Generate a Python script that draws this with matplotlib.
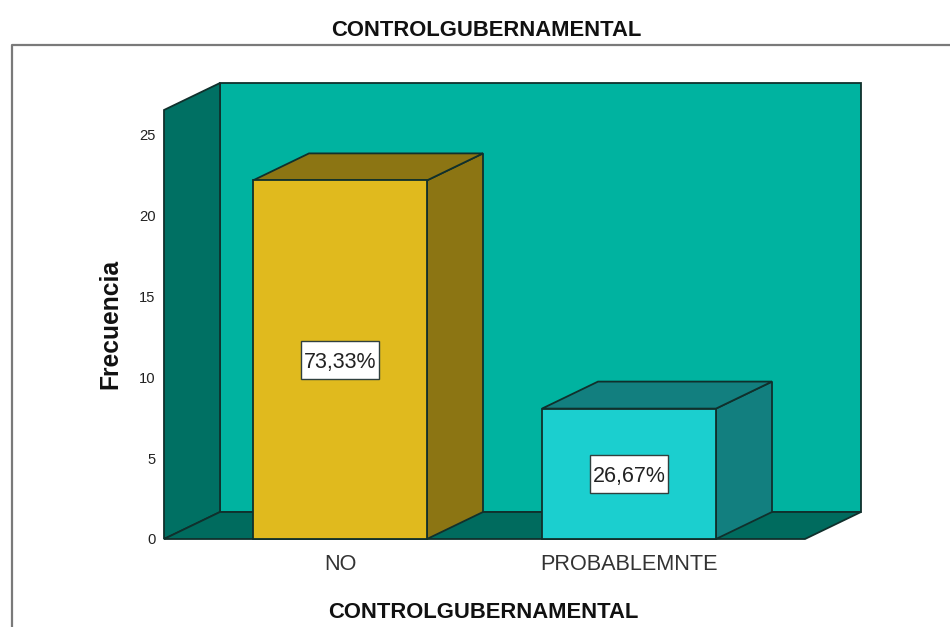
import matplotlib
matplotlib.use("Agg")
import matplotlib.pyplot as plt
from matplotlib.lines import Line2D
from matplotlib.patches import Polygon, Rectangle

categories = ["NO", "PROBABLEMNTE"]
counts = [22, 8]
percent_labels = ["73,33%", "26,67%"]
y_ticks = [0, 5, 10, 15, 20, 25]
title = "CONTROLGUBERNAMENTAL"
y_label = "Frecuencia"

W, H = 950, 627
plt.rcParams["font.family"] = ["Liberation Sans", "DejaVu Sans"]
fig = plt.figure(figsize=(W / 100, H / 100), dpi=100, facecolor="white")

# pixel geometry of the front plane of the 3D box
L, R, B, T = 164, 805, 539, 110
ax = fig.add_axes([L / W, 1 - B / H, (R - L) / W, (B - T) / H])
PX_X = 289.0   # px per category
PX_Y = 16.3    # px per count
X0 = 340
ax.set_xlim((L - X0) / PX_X, (R - X0) / PX_X)
ax.set_ylim(0, (B - T) / PX_Y)
DX, DY = 56 / PX_X, 27 / PX_Y
BAR_W = 174 / PX_X
BOX_W, BOX_H = 78 / PX_X, 38 / PX_Y
EDGE = "#10302c"
LW = 1.3

def poly(pts, color, z):
    ax.add_patch(Polygon(pts, closed=True, facecolor=color, edgecolor=EDGE,
                         linewidth=LW, joinstyle="miter", clip_on=False, zorder=z))

x0, x1 = ax.get_xlim()
y0, y1 = ax.get_ylim()
# back wall, left wall, floor
poly([(x0 + DX, y0 + DY), (x1 + DX, y0 + DY), (x1 + DX, y1 + DY), (x0 + DX, y1 + DY)], "#00B3A0", 1)
poly([(x0, y0), (x0 + DX, y0 + DY), (x0 + DX, y1 + DY), (x0, y1)], "#007063", 2)
poly([(x0, y0), (x1, y0), (x1 + DX, y0 + DY), (x0 + DX, y0 + DY)], "#006B5E", 2)

bar_colors = [("#E0BA1E", "#8C7513"), ("#1BCFCF", "#127F7F")]
for i, (v, (front, side)) in enumerate(zip(counts, bar_colors)):
    a, b = i - BAR_W / 2, i + BAR_W / 2
    poly([(b, 0), (b + DX, DY), (b + DX, v + DY), (b, v)], side, 5)
    poly([(a, v), (b, v), (b + DX, v + DY), (a + DX, v + DY)], side, 5)
    poly([(a, 0), (b, 0), (b, v), (a, v)], front, 6)
    ax.add_patch(Rectangle((i - BOX_W / 2, v / 2 - BOX_H / 2), BOX_W, BOX_H, facecolor="white",
                           edgecolor="#30403e", linewidth=1, zorder=7))
    ax.text(i, v / 2, percent_labels[i], ha="center", va="center_baseline", fontsize=15.5,
            color="#222222", zorder=8)

ax.set_xticks(range(len(categories)))
ax.set_xticklabels(categories, fontsize=15.6, color="#333333")
ax.tick_params(axis="x", length=0, pad=11)
ax.set_yticks([])
for s in ax.spines.values():
    s.set_visible(False)
ax.patch.set_visible(False)

# tick labels sit on a slightly different scale than the bars in the source
tick_ax = fig.add_axes(ax.get_position())
tick_ax.patch.set_visible(False)
tick_ax.set_ylim(0, (B - T) / 16.17)
tick_ax.set_yticks(y_ticks)
tick_ax.set_yticklabels(y_ticks, fontsize=10.6, color="#222222")
tick_ax.tick_params(axis="y", length=0, pad=6)
tick_ax.set_xticks([])
for s in tick_ax.spines.values():
    s.set_visible(False)
tick_ax.set_zorder(-1)

fig.text(110 / W, 1 - 324 / H, y_label, rotation=90, ha="center", va="center",
         fontsize=17.7, fontweight="bold", color="#111111")
fig.text(486 / W, 1 - 30 / H, title, ha="center", va="center",
         fontsize=15.8, fontweight="bold", color="#111111")
fig.text(483 / W, 1 - 612 / H, title, ha="center", va="center",
         fontsize=15.8, fontweight="bold", color="#111111")

# outer chart frame, cropped by the image at right and bottom
fig.add_artist(Line2D([12 / W, 12 / W, 1], [0, 1 - 45 / H, 1 - 45 / H], color="#7a7a7a", linewidth=1.6))

fig.savefig("out.png", dpi=100)
